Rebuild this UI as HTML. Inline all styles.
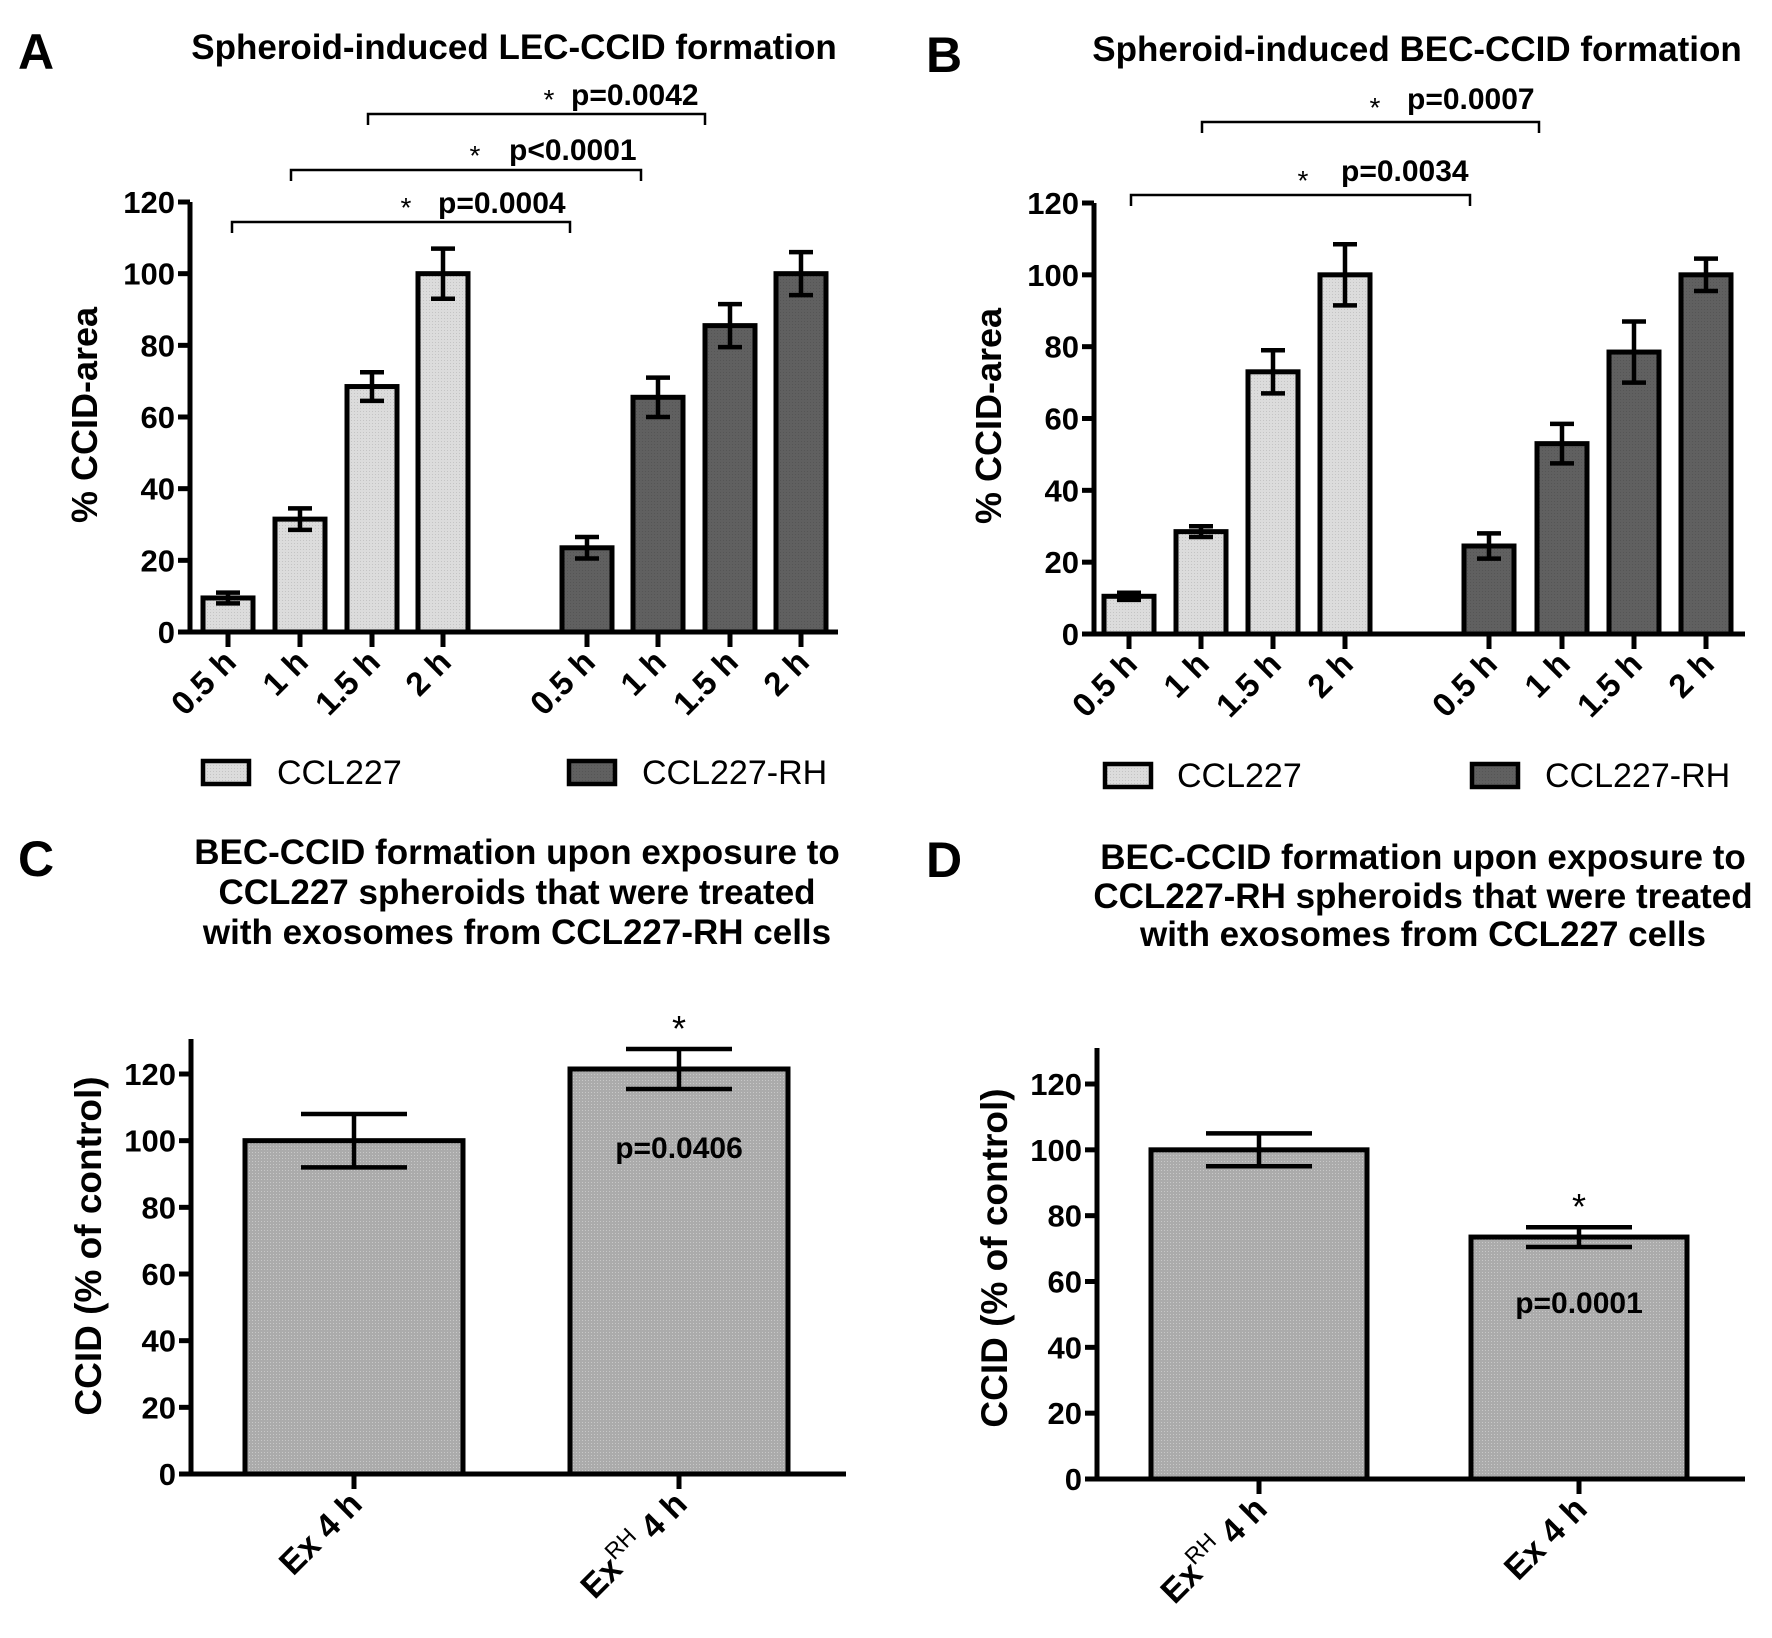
<!DOCTYPE html>
<html><head><meta charset="utf-8"><style>
body{margin:0;background:#fff}
svg{display:block}
text{font-family:"Liberation Sans",Arial,sans-serif}
</style></head><body>
<svg id="fig" width="1772" height="1638" viewBox="0 0 1772 1638" xmlns="http://www.w3.org/2000/svg">
<defs>
<pattern id="pl" width="3" height="3" patternUnits="userSpaceOnUse"><rect width="3" height="3" fill="#dcdcdc"/><rect width="1" height="1" fill="#c4c4c4"/></pattern>
<pattern id="pd" width="3" height="3" patternUnits="userSpaceOnUse"><rect width="3" height="3" fill="#606060"/><rect width="1" height="1" fill="#555"/></pattern>
<pattern id="pm" width="3" height="3" patternUnits="userSpaceOnUse"><rect width="3" height="3" fill="#ababab"/><rect width="1" height="1" fill="#c8c8c8"/></pattern>
</defs>
</svg>
<script>
// Panel A data
const aCategories = ["0.5 h","1 h","1.5 h","2 h","0.5 h","1 h","1.5 h","2 h"];
const aCCL227 = [9.5, 31.5, 68.5, 100];
const aCCL227Err = [1.5, 3, 4, 7];
const aRH = [23.5, 65.5, 85.5, 100];
const aRHErr = [3, 5.5, 6, 6];
// Panel B data
const bCategories = ["0.5 h","1 h","1.5 h","2 h","0.5 h","1 h","1.5 h","2 h"];
const bCCL227 = [10.5, 28.5, 73, 100];
const bCCL227Err = [1, 1.5, 6, 8.5];
const bRH = [24.5, 53, 78.5, 100];
const bRHErr = [3.5, 5.5, 8.5, 4.5];
// Panel C data
const cCategories = ["Ex", "ExRH"];
const cValues = [100, 121.5];
const cErr = [8, 6];
// Panel D data
const dCategories = ["ExRH", "Ex"];
const dValues = [100, 73.5];
const dErr = [5, 3];
const ticksAB = [0,20,40,60,80,100,120];
const ticksCD = [0,20,40,60,80,100,120];

const svg = document.getElementById('fig');
const NS = 'http://www.w3.org/2000/svg';
function mk(tag, attrs, parent){
  const e = document.createElementNS(NS, tag);
  for (const k in attrs) e.setAttribute(k, attrs[k]);
  (parent||svg).appendChild(e);
  return e;
}
function txt(str, x, y, size, weight, anchor, parent){
  const t = mk('text', {x:x, y:y, 'font-size':size, 'font-weight':weight, 'text-anchor':anchor||'start', fill:'#000'}, parent);
  t.textContent = str;
  return t;
}

function axisPanel(o){
  const g = mk('g', {});
  
  
  const ys = v => o.y0 - (v/120)*(o.y0 - o.y120);
  const ya = mk('line', {x1:o.ax, y1:o.top, x2:o.ax, y2:o.y0+2.5, stroke:'#000','stroke-width':5}, g);
  
  
  o.ticks.forEach(t=>{
    mk('line', {x1:o.ax-12, y1:ys(t), x2:o.ax, y2:ys(t), stroke:'#000','stroke-width':5}, g);
    const tl = txt(String(t), o.ax-15, ys(t)+11, 31, 'bold', 'end', g);
    
    
  });
  const xa = mk('line', {x1:o.ax-12, y1:o.y0, x2:o.xend, y2:o.y0, stroke:'#000','stroke-width':5}, g);
  
  
  const yt = txt(o.ytitle, 0, 0, o.ytfs, 'bold', 'middle', g);
  yt.setAttribute('transform', `translate(${o.ytx},${o.yty}) rotate(-90)`);
  
  
  o.centers.forEach((cx,i)=>{
    const v = o.values[i], e = o.errs[i];
    mk('line', {x1:cx, y1:o.y0, x2:cx, y2:o.y0+15, stroke:'#000','stroke-width':5}, g);
    const r = mk('rect', {x:cx-o.bw/2, y:ys(v), width:o.bw, height:o.y0-ys(v), fill:o.fills[i], stroke:'#000','stroke-width':5}, g);
    
    
    const eb = mk('path', {d:`M${cx},${ys(v+e)}V${ys(v-e)}M${cx-o.cap/2},${ys(v+e)}H${cx+o.cap/2}M${cx-o.cap/2},${ys(v-e)}H${cx+o.cap/2}`, stroke:'#000','stroke-width':4.5, fill:'none'}, g);
    
    
    const lx = cx+10, ly = o.y0+32;
    const xl = mk('text', {x:0, y:0, 'font-size':o.xfs, 'font-weight':'bold', 'text-anchor':'end', transform:`translate(${lx},${ly}) rotate(-45)`}, g);
    
    
    const lab = o.cats[i];
    if (lab === 'ExRH'){
      xl.innerHTML = 'Ex<tspan font-size="23" font-weight="normal" dy="-14">RH</tspan><tspan dy="14"> 4 h</tspan>';
    } else if (lab === 'Ex'){
      xl.textContent = 'Ex 4 h';
    } else xl.textContent = lab;
  });
  return {g, ys};
}

function bracket(g, x1, x2, y, label, starX, textX, textY){
  const b = mk('path', {d:`M${x1},${y+11}V${y}H${x2}V${y+11}`, stroke:'#000','stroke-width':2.5, fill:'none'}, g);
  
  
  const s = txt('*', starX, y-5, 28, 'normal', 'middle', g);
  
  
  const p = txt(label, textX, textY, 30, 'bold', 'start', g);
  
  
}

function legend(g, items){
  items.forEach(it=>{
    const r = mk('rect', {x:it.x, y:it.y, width:46, height:23, fill:it.fill, stroke:'#000','stroke-width':4.5}, g);
    
    
    const t = txt(it.label, it.tx, it.y+23, 34, 'normal', 'start', g);
    
    
  });
}

function title(lines, cx, ys, name, fs){
  lines.forEach((l,i)=>{
    const t = txt(l, cx, ys[i], fs, 'bold', 'middle');
    
    
  });
}
function letter(l, x, y){
  const t = txt(l, x, y, 50, 'bold', 'start');
  
  
}

const L='url(#pl)', D='url(#pd)', M='url(#pm)';

// Panel A
letter('A', 18, 69);
title(['Spheroid-induced LEC-CCID formation'], 514, [59], 'chart-title-a', 35);
const pa = axisPanel({name:'panel-a', ax:190, y0:632, y120:202, top:202, xend:838, ticks:ticksAB,
  centers:[228,300,372,443,587,658,730,801], bw:50, cap:24, xfs:33,
  values:aCCL227.concat(aRH), errs:aCCL227Err.concat(aRHErr), cats:aCategories,
  fills:[L,L,L,L,D,D,D,D], ytitle:'% CCID-area', ytfs:36, ytx:97, yty:415});
bracket(pa.g, 232, 570, 222, 'p=0.0004', 406, 438, 213);
bracket(pa.g, 291, 641, 170, 'p<0.0001', 475, 509, 160);
bracket(pa.g, 368, 705, 114, 'p=0.0042', 549, 571, 105);
legend(pa.g, [{x:203,y:761,fill:L,label:'CCL227',tx:277},{x:569,y:761,fill:D,label:'CCL227-RH',tx:642}]);

// Panel B
letter('B', 926, 72);
title(['Spheroid-induced BEC-CCID formation'], 1417, [61], 'chart-title-b', 35);
const pb = axisPanel({name:'panel-b', ax:1094, y0:634, y120:203, top:203, xend:1745, ticks:ticksAB,
  centers:[1129,1201,1273,1345,1489,1562,1634,1706], bw:50, cap:24, xfs:33,
  values:bCCL227.concat(bRH), errs:bCCL227Err.concat(bRHErr), cats:bCategories,
  fills:[L,L,L,L,D,D,D,D], ytitle:'% CCID-area', ytfs:36, ytx:1001, yty:416});
bracket(pb.g, 1131, 1470, 195, 'p=0.0034', 1303, 1341, 181);
bracket(pb.g, 1202, 1539, 122, 'p=0.0007', 1375, 1407, 109);
legend(pb.g, [{x:1105,y:764,fill:L,label:'CCL227',tx:1177},{x:1472,y:764,fill:D,label:'CCL227-RH',tx:1545}]);

// Panel C
letter('C', 18, 876);
title(['BEC-CCID formation upon exposure to','CCL227 spheroids that were treated','with exosomes from CCL227-RH cells'], 517, [864,904,944], 'chart-title-c', 35);
const pc = axisPanel({name:'panel-c', ax:191, y0:1474, y120:1074, top:1039, xend:846, ticks:ticksCD,
  centers:[354,679], bw:218, cap:106, xfs:34,
  values:cValues, errs:cErr, cats:cCategories,
  fills:[M,M], ytitle:'CCID (% of control)', ytfs:37, ytx:101, yty:1246});
(function(){
  const s = txt('*', 679, pc.ys(cValues[1]+cErr[1])-8, 36, 'normal', 'middle', pc.g);
  
  
  const p = txt('p=0.0406', 679, 1158, 30, 'bold', 'middle', pc.g);
  
  
})();

// Panel D
letter('D', 926, 877);
title(['BEC-CCID formation upon exposure to','CCL227-RH spheroids that were treated','with exosomes from CCL227 cells'], 1423, [869,908,946], 'chart-title-d', 35);
const pd = axisPanel({name:'panel-d', ax:1097, y0:1479, y120:1084, top:1048, xend:1745, ticks:ticksCD,
  centers:[1259,1579], bw:216, cap:106, xfs:34,
  values:dValues, errs:dErr, cats:dCategories,
  fills:[M,M], ytitle:'CCID (% of control)', ytfs:37, ytx:1007, yty:1258});
(function(){
  const s = txt('*', 1579, pd.ys(dValues[1]+dErr[1])-8, 36, 'normal', 'middle', pd.g);
  
  
  const p = txt('p=0.0001', 1579, 1313, 30, 'bold', 'middle', pd.g);
  
  
})();
</script>
</body></html>
